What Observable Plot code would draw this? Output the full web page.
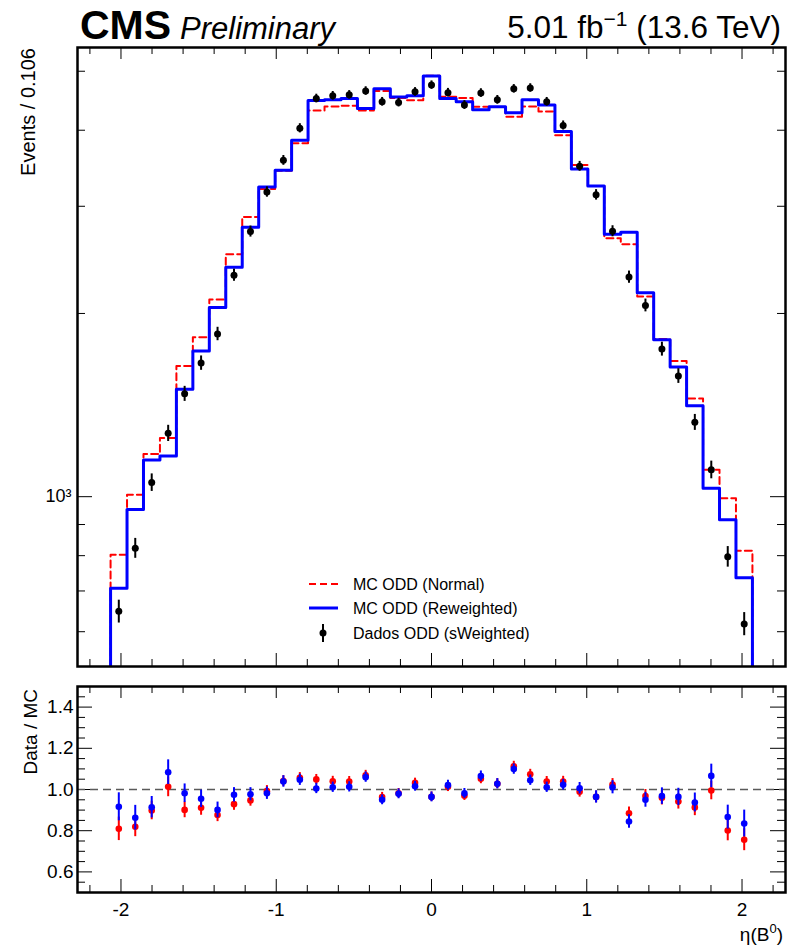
<!DOCTYPE html>
<html><head><meta charset="utf-8">
<script src="https://cdn.jsdelivr.net/npm/d3@7"></script>
<script src="https://cdn.jsdelivr.net/npm/@observablehq/plot@0.6"></script>
<style>
body{margin:0;background:#fff;}
#wrap{position:relative;width:798px;height:949px;overflow:hidden;font-family:"Liberation Sans",Arial,Helvetica,sans-serif;}
#wrap > * {position:absolute;left:0;}
</style></head><body><div id="wrap"></div>
<script>
// ---------- data ----------
const binWidth = 0.106;
const binCenters = [-2.014,-1.908,-1.802,-1.696,-1.590,-1.484,-1.378,-1.272,-1.166,-1.060,
  -0.954,-0.848,-0.742,-0.636,-0.530,-0.424,-0.318,-0.212,-0.106,0,
  0.106,0.212,0.318,0.424,0.530,0.636,0.742,0.848,0.954,1.060,
  1.166,1.272,1.378,1.484,1.590,1.696,1.802,1.908,2.014];
const dataVals = [648,823,1055,1271,1476,1658,1851,2312,2727,3167,3569,4030,4510,4557,4573,4640,4455,4441,4625,4745,
  4611,4401,4605,4488,4679,4694,4455,4073,3490,3133,2730,2295,2062,1748,1579,1325,1107,797,618];
const dataErr = [28,31,35,39,42,45,47,53,57,62,66,70,74,74,74,75,73,73,75,76,
  75,73,75,74,75,75,73,70,65,62,57,53,50,46,44,40,37,31,27];
const mcNormal = [803,1007,1175,1248,1639,1828,2108,2503,2882,3204,3430,3806,4310,4376,4390,4310,4640,4520,4480,4917,
  4542,4520,4370,4366,4209,4376,4292,3923,3506,3238,2659,2599,2133,1815,1671,1450,1107,994,815];
const mcReweighted = [707,953,1149,1166,1501,1735,2046,2383,2772,3228,3438,3853,4475,4490,4510,4343,4679,4535,4557,4910,
  4510,4455,4324,4370,4272,4488,4401,3982,3453,3238,2698,2718,2162,1810,1634,1411,1032,916,736];
const ratioNormal = [0.809,0.819,0.898,1.013,0.901,0.911,0.876,0.929,0.947,0.992,1.041,1.057,1.049,1.040,1.039,1.069,0.963,0.982,1.032,0.965,
  1.013,0.970,1.052,1.028,1.113,1.074,1.039,1.039,0.989,0.964,1.024,0.885,0.968,0.960,0.942,0.913,0.995,0.801,0.756];
const ratioNormalErr = [0.057,0.048,0.045,0.048,0.038,0.036,0.032,0.030,0.028,0.027,0.026,0.025,0.024,0.024,0.024,0.024,0.023,0.023,0.023,0.023,
  0.023,0.023,0.024,0.024,0.024,0.024,0.024,0.025,0.026,0.028,0.029,0.030,0.032,0.035,0.037,0.040,0.045,0.050,0.053];
const ratioReweighted = [0.916,0.863,0.914,1.084,0.982,0.955,0.901,0.974,0.977,0.982,1.039,1.047,1.005,1.011,1.013,1.060,0.950,0.979,1.016,0.964,
  1.021,0.981,1.065,1.028,1.099,1.045,1.011,1.023,1.006,0.964,1.011,0.845,0.950,0.968,0.964,0.937,1.066,0.866,0.835];
const ratioReweightedErr = [0.068,0.060,0.052,0.060,0.045,0.042,0.038,0.035,0.032,0.030,0.028,0.027,0.025,0.025,0.025,0.025,0.024,0.024,0.024,0.024,
  0.024,0.024,0.025,0.025,0.025,0.025,0.025,0.026,0.028,0.030,0.032,0.033,0.036,0.040,0.042,0.046,0.057,0.058,0.065];

// ticks / labels
const xMajorTicks = [-2,-1,0,1,2];
const xMinorTicks = [-2.2,-1.8,-1.6,-1.4,-1.2,-0.8,-0.6,-0.4,-0.2,0.2,0.4,0.6,0.8,1.2,1.4,1.6,1.8,2.2];
const topYMajorTicks = [1000];
const topYMinorTicks = [600,700,800,900,2000,3000,4000,5000];
const ratioYMajorTicks = [0.6,0.8,1.0,1.2,1.4];
const ratioYMinorTicks = [0.55,0.65,0.7,0.75,0.85,0.9,0.95,1.05,1.1,1.15,1.25,1.3,1.35,1.45];
const legendLabels = ["MC ODD (Normal)","MC ODD (Reweighted)","Dados ODD (sWeighted)"];

// ---------- layout ----------
const W = 798, ML = 77, MR = 13;
const xDomain = [-2.28, 2.28];
const topYDomain = [526, 5470];
const ratioYDomain = [0.5, 1.5];
const FONT = "'Liberation Sans', Arial, Helvetica, sans-serif";
const RED = "#ff0000", BLUE = "#0000ff";

const rows = binCenters.map((x,i)=>({x, d:dataVals[i], e:dataErr[i], n:mcNormal[i], w:mcReweighted[i],
  rn:ratioNormal[i], ern:ratioNormalErr[i], rw:ratioReweighted[i], erw:ratioReweightedErr[i]}));
function stepPoints(vals){
  const pts = [{x: binCenters[0]-binWidth/2, y: topYDomain[0]}];
  vals.forEach((v,i)=>pts.push({x: binCenters[i]-binWidth/2, y: v}));
  const last = binCenters[binCenters.length-1]+binWidth/2;
  pts.push({x: last, y: vals[vals.length-1]});
  pts.push({x: last, y: topYDomain[0]});
  return pts;
}

function tickRules(ph, pw, xMaj, xMin, yMaj, yMin){
  return [
    Plot.ruleX(xMaj, {insetTop: ph-13, stroke:"black", strokeWidth:1}),
    Plot.ruleX(xMin, {insetTop: ph-7, stroke:"black", strokeWidth:1}),
    Plot.ruleX(xMaj, {insetBottom: ph-12, stroke:"black", strokeWidth:1}),
    Plot.ruleX(xMin, {insetBottom: ph-7, stroke:"black", strokeWidth:1}),
    Plot.ruleY(yMaj, {insetRight: pw-15, stroke:"black", strokeWidth:1}),
    Plot.ruleY(yMin, {insetRight: pw-8, stroke:"black", strokeWidth:1}),
    Plot.ruleY(yMaj, {insetLeft: pw-15, stroke:"black", strokeWidth:1}),
    Plot.ruleY(yMin, {insetLeft: pw-8, stroke:"black", strokeWidth:1})
  ];
}

// ---------- top panel ----------
const H1 = 680, MT1 = 47, MB1 = 14;
const topPlot = Plot.plot({
  width: W, height: H1, marginLeft: ML, marginRight: MR, marginTop: MT1, marginBottom: MB1,
  style: {fontFamily: FONT, fontSize: "18px", color: "black", background: "transparent"},
  x: {domain: xDomain, axis: null},
  y: {type: "log", domain: topYDomain},
  marks: [
    ...tickRules(H1-MT1-MB1, W-ML-MR, xMajorTicks, xMinorTicks, topYMajorTicks, topYMinorTicks),
    Plot.axisY({ticks: topYMajorTicks, tickFormat: () => "10³", tickSize: 0, tickPadding: 6, fontSize: 18, label: null}),
    Plot.line(stepPoints(mcNormal), {x:"x", y:"y", curve:"step-after", stroke: RED, strokeWidth: 2, strokeDasharray: "7,4", clip: true}),
    Plot.line(stepPoints(mcReweighted), {x:"x", y:"y", curve:"step-after", stroke: BLUE, strokeWidth: 3, clip: true}),
    Plot.ruleX(rows, {x:"x", y1: d=>d.d-d.e, y2: d=>d.d+d.e, stroke:"black", strokeWidth: 2}),
    Plot.dot(rows, {x:"x", y:"d", r: 3.5, fill:"black", stroke: null}),
    Plot.frame({stroke:"black", strokeWidth: 2.5})
  ]
});
topPlot.style.top = "0px";

// ---------- ratio panel ----------
const H2 = 279, MT2 = 16, MB2 = 57;
const ratioPlot = Plot.plot({
  width: W, height: H2, marginLeft: ML, marginRight: MR, marginTop: MT2, marginBottom: MB2,
  style: {fontFamily: FONT, fontSize: "19px", color: "black", background: "transparent"},
  x: {domain: xDomain},
  y: {domain: ratioYDomain},
  marks: [
    ...tickRules(H2-MT2-MB2, W-ML-MR, xMajorTicks, xMinorTicks, ratioYMajorTicks, ratioYMinorTicks),
    Plot.axisX({ticks: xMajorTicks, tickFormat: d => String(d), tickSize: 0, tickPadding: 10, fontSize: 19, label: null}),
    Plot.axisY({ticks: ratioYMajorTicks, tickFormat: d3.format(".1f"), tickSize: 0, tickPadding: 4, fontSize: 19, label: null}),
    Plot.ruleY([1], {stroke:"#5a5a5a", strokeWidth: 1.5, strokeDasharray: "8,5"}),
    Plot.ruleX(rows, {x:"x", y1: d=>d.rn-d.ern, y2: d=>d.rn+d.ern, stroke: RED, strokeWidth: 2}),
    Plot.dot(rows, {x:"x", y:"rn", r: 3.3, fill: RED, stroke: null}),
    Plot.ruleX(rows, {x:"x", y1: d=>d.rw-d.erw, y2: d=>d.rw+d.erw, stroke: BLUE, strokeWidth: 2}),
    Plot.dot(rows, {x:"x", y:"rw", r: 3.3, fill: BLUE, stroke: null}),
    Plot.frame({stroke:"black", strokeWidth: 2.5})
  ]
});
ratioPlot.style.top = "670px";

const wrap = document.getElementById("wrap");
wrap.appendChild(topPlot);
wrap.appendChild(ratioPlot);

// ---------- overlay text (titles, axis titles, legend) ----------
const ov = d3.select(wrap).append("svg").attr("width", W).attr("height", 949)
  .style("top","0px").style("pointer-events","none").style("font-family", FONT);

ov.append("text").attr("x", 80).attr("y", 39).attr("font-size", 41).attr("font-weight", "bold").text("CMS");
ov.append("text").attr("x", 180).attr("y", 39).attr("font-size", 31).attr("font-style", "italic").text("Preliminary");
const lumi = ov.append("text").attr("x", 781).attr("y", 38).attr("font-size", 31.5).attr("text-anchor", "end");
lumi.append("tspan").text("5.01 fb");
lumi.append("tspan").attr("font-size", 21).attr("dy", -12).text("−1");
lumi.append("tspan").attr("dy", 12).text(" (13.6 TeV)");

ov.append("text").attr("transform", "translate(35,48) rotate(-90)").attr("text-anchor", "end")
  .attr("font-size", 20).text("Events / 0.106");
ov.append("text").attr("transform", "translate(37,689) rotate(-90)").attr("text-anchor", "end")
  .attr("font-size", 19).text("Data / MC");
const xl = ov.append("text").attr("x", 783).attr("y", 941).attr("font-size", 19).attr("text-anchor", "end");
xl.append("tspan").text("η(B");
xl.append("tspan").attr("font-size", 13).attr("dy", -8).text("0");
xl.append("tspan").attr("dy", 8).text(")");

// legend
const legY = [584, 608, 633];
const lg = ov.append("g").attr("font-size", 16);
lg.append("line").attr("x1", 309).attr("x2", 338).attr("y1", legY[0]).attr("y2", legY[0])
  .attr("stroke", RED).attr("stroke-width", 2).attr("stroke-dasharray", "7,4");
lg.append("line").attr("x1", 309).attr("x2", 338).attr("y1", legY[1]).attr("y2", legY[1])
  .attr("stroke", BLUE).attr("stroke-width", 3);
lg.append("line").attr("x1", 323).attr("x2", 323).attr("y1", legY[2]-9).attr("y2", legY[2]+9)
  .attr("stroke", "black").attr("stroke-width", 2);
lg.append("circle").attr("cx", 323).attr("cy", legY[2]).attr("r", 3.5).attr("fill", "black");
legendLabels.forEach((t,i)=>{
  lg.append("text").attr("x", 353).attr("y", legY[i]).attr("dy", "0.35em").text(t);
});
</script></body></html>
